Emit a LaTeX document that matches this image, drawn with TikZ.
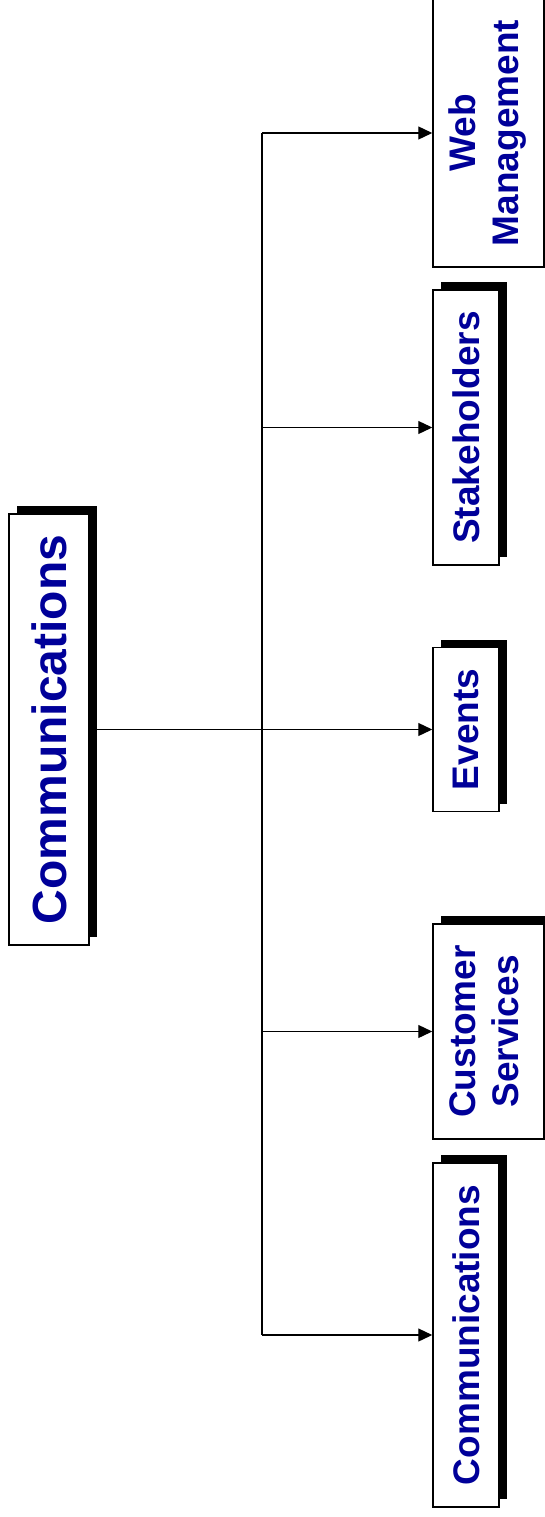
\documentclass[tikz,border=0pt]{standalone}
\usepackage{fontspec}
\usepackage{graphicx}
\setmainfont{Liberation Sans}
\usetikzlibrary{shadows,arrows.meta}
\definecolor{unitblue}{RGB}{0,0,153}

\begin{document}
\begin{tikzpicture}[x=1pt, y=-1pt,
    unitbox/.style={rectangle, draw=black, line width=1.5pt, fill=white, inner sep=0pt,
        font=\bfseries\fontsize{37}{43}\selectfont, text=unitblue,
        drop shadow={shadow xshift=8pt, shadow yshift=8pt, fill=black, opacity=1}},
    link/.style={line width=1.3pt},
    linkarrow/.style={line width=1.3pt, -{Triangle[length=14pt, width=13pt]}}]
        \useasboundingbox (0,0) rectangle (545,1517);

        \node[unitbox, minimum width=80pt, minimum height=431pt,
            font=\bfseries\fontsize{48}{56}\selectfont] (main) at (49,729.5)
            {\rotatebox{90}{Communications}};

        \node[unitbox, minimum width=111pt, minimum height=268pt] (web) at (488.5,133)
            {\rotatebox{90}{\begin{tabular}{@{}c@{}}Web\\Management\end{tabular}}};
        \node[unitbox, minimum width=66pt, minimum height=275pt] (stake) at (466,427.5)
            {\rotatebox{90}{Stakeholders}};
        \node[unitbox, minimum width=66pt, minimum height=164pt] (events) at (466,729.5)
            {\rotatebox{90}{Events}};
        \node[unitbox, minimum width=111pt, minimum height=215pt] (custsvc) at (488.5,1031.5)
            {\rotatebox{90}{\begin{tabular}{@{}c@{}}Customer\\Services\end{tabular}}};
        \node[unitbox, minimum width=66pt, minimum height=344pt] (comms) at (466,1335)
            {\rotatebox{90}{Communications}};

        \coordinate (bus) at (262,0);

        \draw[linkarrow] (main.east) -- (events.west);
        \draw[link] (bus |- web.west) -- (bus |- comms.west);
        %%
        \draw[linkarrow] (bus |- web.west) -- (web.west);
        \draw[linkarrow] (bus |- stake.west) -- (stake.west);
        \draw[linkarrow] (bus |- custsvc.west) -- (custsvc.west);
        \draw[linkarrow] (bus |- comms.west) -- (comms.west);
    \end{tikzpicture}
\end{document}
